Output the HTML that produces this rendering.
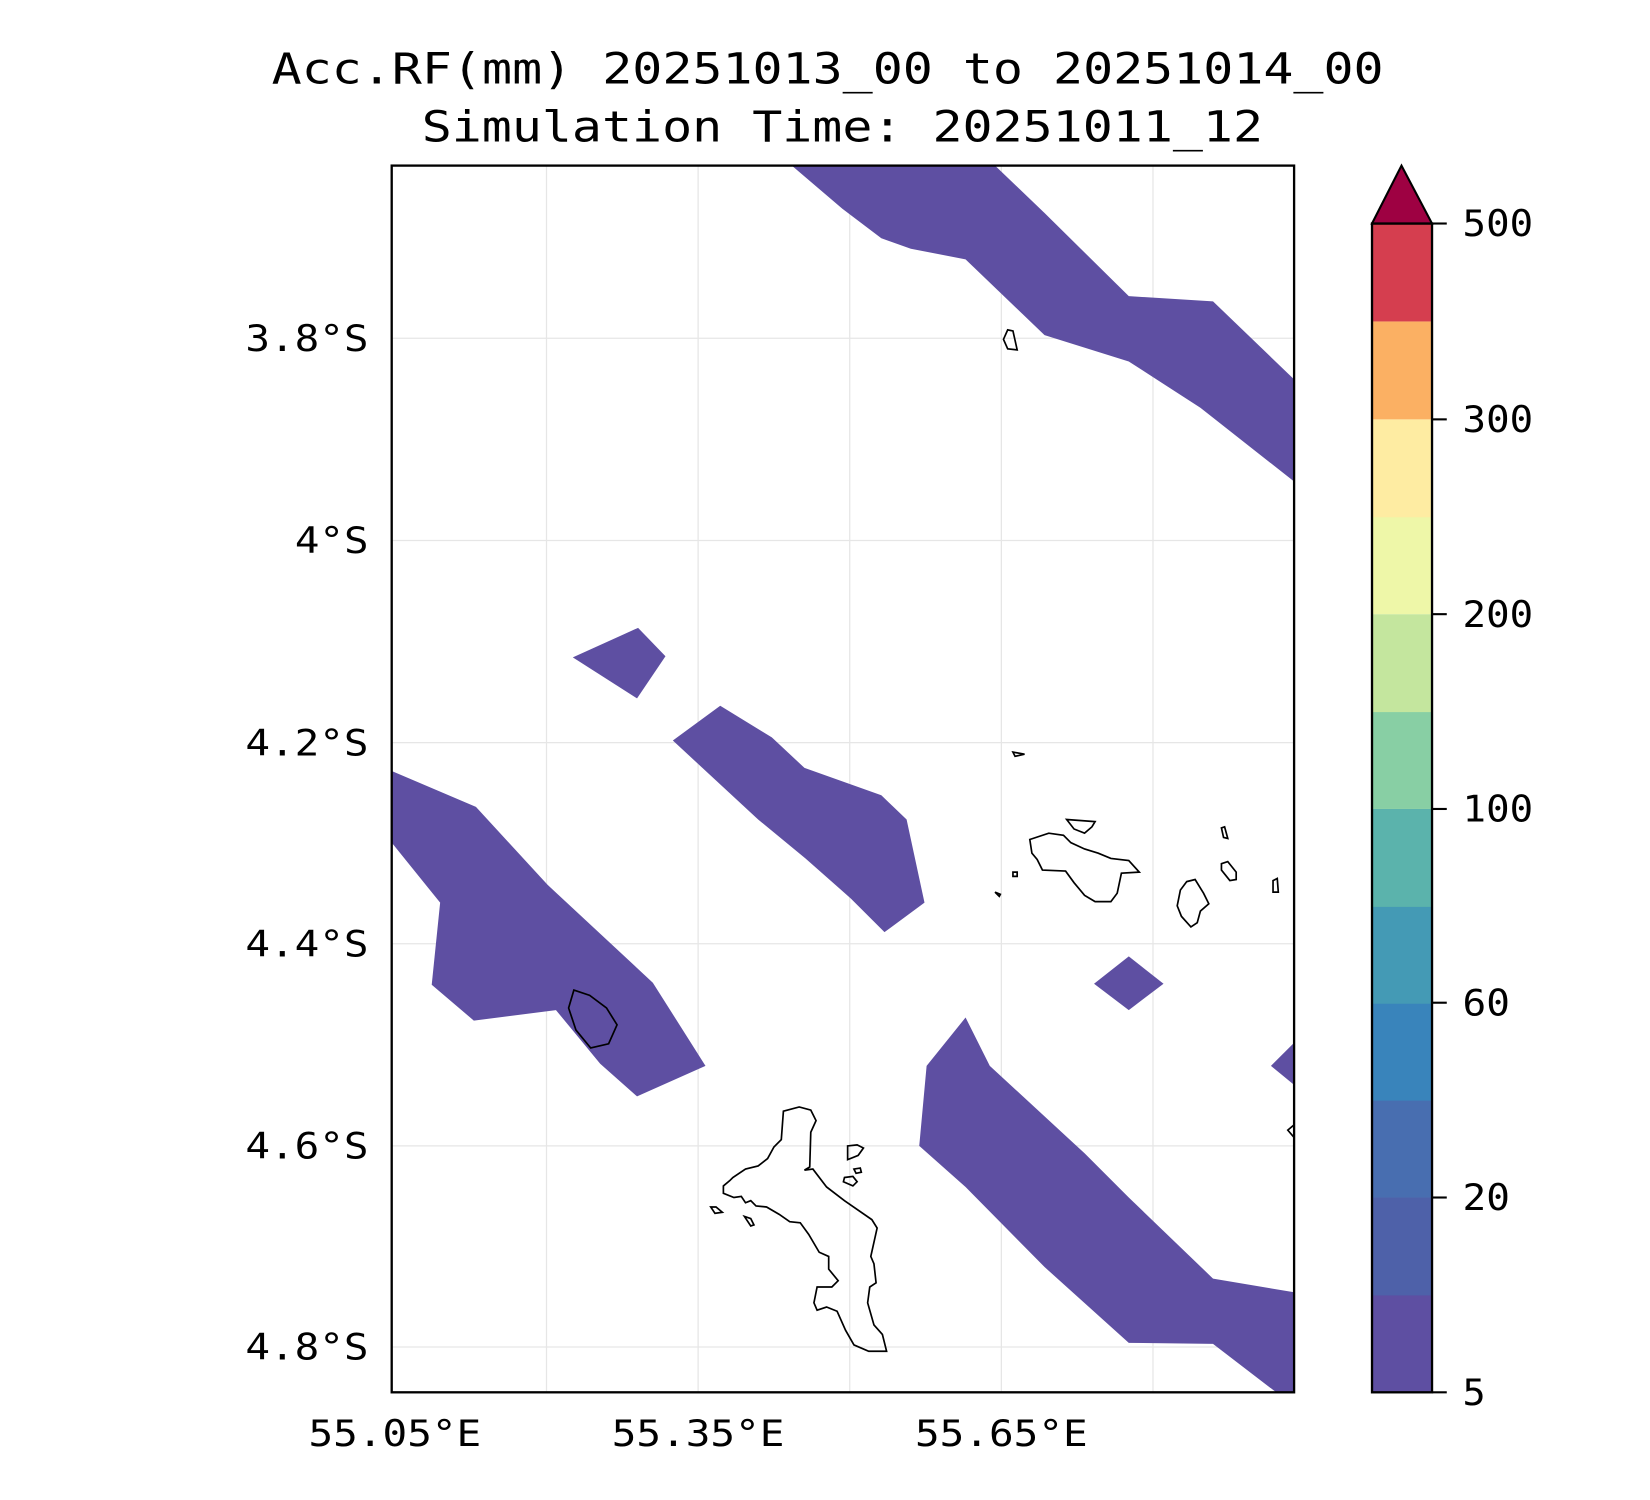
<!DOCTYPE html>
<html><head><style>html,body{margin:0;padding:0;background:#fff;}svg{display:block}</style></head>
<body>
<svg width="1650" height="1500" viewBox="0 0 1567 1424" xmlns="http://www.w3.org/2000/svg" font-family="DejaVu Sans Mono, Liberation Mono, monospace">
<rect width="1567" height="1424" fill="#fff"/>
<text x="786" y="79" font-size="41" text-anchor="middle" textLength="1056" lengthAdjust="spacingAndGlyphs">Acc.RF(mm) 20251013_00 to 20251014_00</text>
<text x="800" y="134" font-size="41" text-anchor="middle" textLength="799" lengthAdjust="spacingAndGlyphs">Simulation Time: 20251011_12</text>
<clipPath id="c"><rect x="372" y="157" width="857" height="1165"/></clipPath>
<g clip-path="url(#c)">
<g stroke="#e6e6e6" stroke-width="1.2">
<line x1="519" y1="157" x2="519" y2="1322"/><line x1="663" y1="157" x2="663" y2="1322"/><line x1="807" y1="157" x2="807" y2="1322"/><line x1="951" y1="157" x2="951" y2="1322"/><line x1="1095" y1="157" x2="1095" y2="1322"/>
<line x1="372" y1="321" x2="1229" y2="321"/><line x1="372" y1="513" x2="1229" y2="513"/><line x1="372" y1="705" x2="1229" y2="705"/><line x1="372" y1="896" x2="1229" y2="896"/><line x1="372" y1="1088" x2="1229" y2="1088"/><line x1="372" y1="1279" x2="1229" y2="1279"/>
</g>
<g fill="#5e4fa2">
<polygon points="752,157 945,157 992,202 1072,281 1152,286 1229,360 1229,457 1140,387 1072,343 992,318 917,246 865,236 837,226 800,198"/>
<polygon points="544,624 606,596 632,623 605,663"/>
<polygon points="639,703 684,670 733,700 764,729 837,755 861,778 878,857 840,885 808,853 765,815 720,778"/>
<polygon points="372,732 452,766 520,840 620,933 670,1012 605,1041 570,1010 528,959 450,969 410,935 418,857 372,800"/>
<polygon points="1039,934 1072,908 1105,934 1072,959"/>
<polygon points="917,966 940,1012 1030,1095 1072,1137 1152,1214 1229,1227 1229,1322 1212,1322 1152,1276 1072,1275 992,1203 917,1127 873,1088 880,1012"/>
<polygon points="1207,1012 1229,990 1229,1030"/>
</g>
<g fill="none" stroke="#000" stroke-width="1.6">
<path d="M545,940 L560,945 L576,957 L586,973 L578,991 L561,995 L547,978 L540,957 Z"/>
<path d="M742,1082 L744,1055 L759,1051 L770,1054 L775,1064 L770,1075 L769,1108 L764,1111 L772,1110 L785,1127 L802,1140 L828,1158 L833,1166 L827,1193 L830,1200 L832,1218 L826,1222 L824,1237 L830,1258 L838,1267 L842,1283 L825,1283 L811,1277 L803,1263 L795,1245 L785,1241 L776,1244 L773,1237 L776,1222 L790,1222 L796,1216 L787,1205 L787,1193 L778,1189 L768,1172 L760,1161 L750,1160 L740,1153 L728,1146 L718,1145 L713,1140 L708,1142 L704,1136 L697,1137 L687,1133 L687,1126 L693,1121 L696,1118 L708,1110 L720,1107 L729,1100 L735,1089 Z"/>
<path d="M805,1088 L814,1087 L820,1090 L815,1097 L805,1101 Z"/>
<path d="M802,1118 L810,1117 L814,1122 L810,1126 L801,1122 Z"/>
<path d="M811,1110 L817,1109 L818,1113 L813,1114 Z"/>
<path d="M675,1146 L680,1146 L686,1151 L679,1152 Z"/>
<path d="M707,1155 L713,1157 L716,1163 L713,1164 Z"/>
<path d="M957,313 L962,314 L966,332 L957,331 L953,322 Z"/>
<path d="M962,714 L973,716 L964,718 Z"/>
<path d="M978,797 L996,791 L1010,793 L1017,800 L1030,806 L1043,810 L1055,815 L1072,817 L1082,828 L1065,829 L1061,848 L1055,856 L1040,856 L1030,850 L1020,838 L1012,827 L990,826 L985,816 L980,810 Z"/>
<path d="M1013,778 L1040,780 L1037,785 L1030,791 L1020,787 Z"/>
<path d="M962,828 L966,828 L966,832 L962,832 Z"/>
<path d="M945,847 L950,849 L949,851 Z"/>
<path d="M1127,837 L1135,835 L1143,848 L1148,858 L1140,865 L1137,876 L1131,880 L1122,870 L1118,860 L1121,845 Z"/>
<path d="M1160,820 L1166,818 L1174,828 L1174,835 L1168,836 L1160,826 Z"/>
<path d="M1160,786 L1163,785 L1166,796 L1162,795 Z"/>
<path d="M1209,836 L1213,834 L1214,847 L1209,847 Z"/>
<path d="M1223,1073 L1229,1068 L1229,1080 Z"/>
</g>
</g>
<rect x="372" y="157" width="857" height="1165" fill="none" stroke="#000" stroke-width="2.2"/>
<g font-size="35" text-anchor="end" lengthAdjust="spacingAndGlyphs">
<text x="350" y="333" textLength="117" lengthAdjust="spacingAndGlyphs">3.8°S</text>
<text x="350" y="525" textLength="70" lengthAdjust="spacingAndGlyphs">4°S</text>
<text x="350" y="717" textLength="117" lengthAdjust="spacingAndGlyphs">4.2°S</text>
<text x="350" y="908" textLength="117" lengthAdjust="spacingAndGlyphs">4.4°S</text>
<text x="350" y="1100" textLength="117" lengthAdjust="spacingAndGlyphs">4.6°S</text>
<text x="350" y="1291" textLength="117" lengthAdjust="spacingAndGlyphs">4.8°S</text>
</g>
<g font-size="35" text-anchor="middle">
<text x="375" y="1373" textLength="164" lengthAdjust="spacingAndGlyphs">55.05°E</text>
<text x="663" y="1373" textLength="164" lengthAdjust="spacingAndGlyphs">55.35°E</text>
<text x="951" y="1373" textLength="164" lengthAdjust="spacingAndGlyphs">55.65°E</text>
</g>
<g>
<rect x="1303" y="1229" width="57" height="93" fill="#5e4fa2"/>
<rect x="1303" y="1137" width="57" height="93" fill="#4e61a9"/>
<rect x="1303" y="1044" width="57" height="93" fill="#486eb0"/>
<rect x="1303" y="952" width="57" height="93" fill="#3984bb"/>
<rect x="1303" y="860" width="57" height="93" fill="#449ab5"/>
<rect x="1303" y="768" width="57" height="93" fill="#5bb3ac"/>
<rect x="1303" y="675" width="57" height="93" fill="#88cfa4"/>
<rect x="1303" y="583" width="57" height="93" fill="#c4e69e"/>
<rect x="1303" y="490" width="57" height="93" fill="#eef7a8"/>
<rect x="1303" y="398" width="57" height="93" fill="#feeca2"/>
<rect x="1303" y="305" width="57" height="93" fill="#fbb063"/>
<rect x="1303" y="212" width="57" height="93" fill="#d53e4f"/>
<polygon points="1303,212 1331,157 1360,212" fill="#9e0142" stroke="#000" stroke-width="2"/>
<rect x="1303" y="212" width="57" height="1110" fill="none" stroke="#000" stroke-width="2.2"/>
</g>
<g stroke="#000" stroke-width="2">
<line x1="1360" y1="212" x2="1374" y2="212"/><line x1="1360" y1="398" x2="1374" y2="398"/><line x1="1360" y1="583" x2="1374" y2="583"/><line x1="1360" y1="768" x2="1374" y2="768"/><line x1="1360" y1="952" x2="1374" y2="952"/><line x1="1360" y1="1137" x2="1374" y2="1137"/><line x1="1360" y1="1322" x2="1374" y2="1322"/>
</g>
<g font-size="35">
<text x="1389" y="224" textLength="67" lengthAdjust="spacingAndGlyphs">500</text>
<text x="1389" y="410" textLength="67" lengthAdjust="spacingAndGlyphs">300</text>
<text x="1389" y="595" textLength="67" lengthAdjust="spacingAndGlyphs">200</text>
<text x="1389" y="780" textLength="67" lengthAdjust="spacingAndGlyphs">100</text>
<text x="1389" y="964" textLength="45" lengthAdjust="spacingAndGlyphs">60</text>
<text x="1389" y="1149" textLength="45" lengthAdjust="spacingAndGlyphs">20</text>
<text x="1389" y="1334" textLength="22" lengthAdjust="spacingAndGlyphs">5</text>
</g>
</svg>
</body></html>
